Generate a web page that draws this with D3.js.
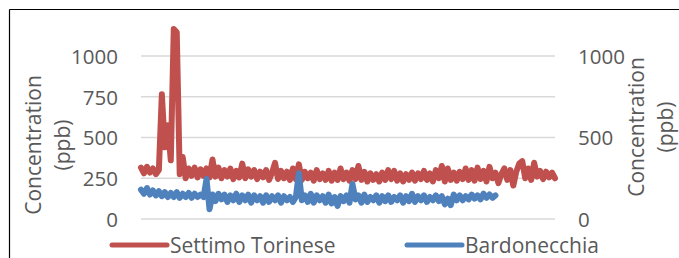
<!DOCTYPE html>
<html><head><meta charset="utf-8">
<script src="https://cdn.jsdelivr.net/npm/d3@7"></script>
<style>body{margin:0;background:#fff}svg{display:block}text{font-family:"Open Sans",sans-serif;fill:#595959}</style>
</head><body><svg id="c" width="679" height="258"></svg>
<script>
const seriesNames = ["Settimo Torinese", "Bardonecchia"];
const leftTicks = [0, 250, 500, 750, 1000];
const rightTicks = [0, 500, 1000];
const settimo = [315,280,320,285,310,275,300,765,440,575,360,1165,1145,275,380,250,310,265,315,255,
305,265,310,255,365,260,315,250,300,260,310,245,295,255,340,250,305,260,300,245,
290,255,300,240,285,345,245,295,250,290,240,310,245,335,240,290,250,285,235,300,
245,280,240,295,235,285,240,310,245,285,235,300,245,325,240,290,230,280,240,275,
230,285,240,300,245,295,235,280,230,275,240,285,235,280,245,295,240,280,230,300,
250,325,230,310,240,285,235,290,245,310,240,300,235,315,245,295,230,320,250,285,
220,275,310,240,300,205,290,340,355,250,310,240,345,260,295,245,290,255,285,250];
const bardonecchia = [180,155,190,150,175,145,170,140,165,135,160,135,165,130,155,135,160,130,155,135,
150,135,245,60,150,110,155,120,150,105,145,115,155,105,145,115,150,100,145,115,
140,100,145,105,140,115,145,100,140,115,135,105,135,280,115,145,105,155,100,145,
115,140,100,150,95,135,80,140,110,145,100,215,120,145,100,150,105,135,115,145,
100,140,110,145,105,135,115,145,100,140,110,155,105,140,115,145,105,135,115,145,
110,140,90,125,85,150,115,145,115,140,120,150,125,145,120,155,130,150,130,145];

const svg = d3.select("#c");
const plotL = 141, plotR = 555, yTop = 56, yBot = 219;
const x = d3.scaleLinear().domain([0, settimo.length - 1]).range([plotL, plotR]);
const y = d3.scaleLinear().domain([0, 1000]).range([yBot, yTop]);

// frame
svg.append("line").attr("x1",9.5).attr("x2",679).attr("y1",9.5).attr("y2",9.5).attr("stroke","#000").attr("stroke-width",1.2);
svg.append("line").attr("x1",9.5).attr("x2",9.5).attr("y1",9.5).attr("y2",258).attr("stroke","#000").attr("stroke-width",1.2);

// gridlines
svg.append("g").selectAll("line").data(leftTicks).join("line")
  .attr("x1",plotL).attr("x2",plotR).attr("y1",d=>y(d)).attr("y2",d=>y(d))
  .attr("stroke","#d9d9d9").attr("stroke-width",1.5);

// left axis
const la = svg.append("g").attr("transform",`translate(${plotL},0)`)
  .call(d3.axisLeft(y).tickValues(leftTicks).tickSize(0).tickPadding(23).tickFormat(d3.format("d")));
la.select(".domain").remove();
la.selectAll("text").style("font-size","20.5px").attr("fill","#595959").attr("dy","0.36em");

// right axis
const ra = svg.append("g").attr("transform",`translate(${plotR},0)`)
  .call(d3.axisRight(y).tickValues(rightTicks).tickSize(0).tickPadding(23).tickFormat(d3.format("d")));
ra.select(".domain").remove();
ra.selectAll("text").style("font-size","20.5px").attr("fill","#595959").attr("dy","0.36em");

// axis titles
function title(cx, cy, l1, l2){
  const t = svg.append("text").attr("transform",`translate(${cx},${cy}) rotate(-90)`)
    .attr("text-anchor","middle").style("font-size","21px");
  t.append("tspan").attr("x",0).attr("dy","0.36em").text(l1);
  t.append("tspan").attr("x",0).attr("dy","1.4em").text(l2);
}
title(33, 145, "Concentration", "(ppb)");
title(636, 127, "Concentration", "(ppb)");

// lines
const line = d3.line().x((d,i)=>x(i)).y(d=>y(d));
svg.append("path").datum(settimo).attr("d",line).attr("fill","none")
  .attr("stroke","#C0504D").attr("stroke-width",6).attr("stroke-linejoin","round").attr("stroke-linecap","round");
svg.append("path").datum(bardonecchia).attr("d",line).attr("fill","none")
  .attr("stroke","#4F81BD").attr("stroke-width",6).attr("stroke-linejoin","round").attr("stroke-linecap","round");

// legend
const legend = [{name:seriesNames[0], c:"#C0504D", x:112},{name:seriesNames[1], c:"#4F81BD", x:407}];
const lg = svg.append("g").selectAll("g").data(legend).join("g").attr("transform",d=>`translate(${d.x},245)`);
lg.append("line").attr("x1",0).attr("x2",55).attr("stroke",d=>d.c).attr("stroke-width",5).attr("stroke-linecap","round");
lg.append("text").attr("x",58).attr("y",8).style("font-size","21px").text(d=>d.name);
</script></body></html>
